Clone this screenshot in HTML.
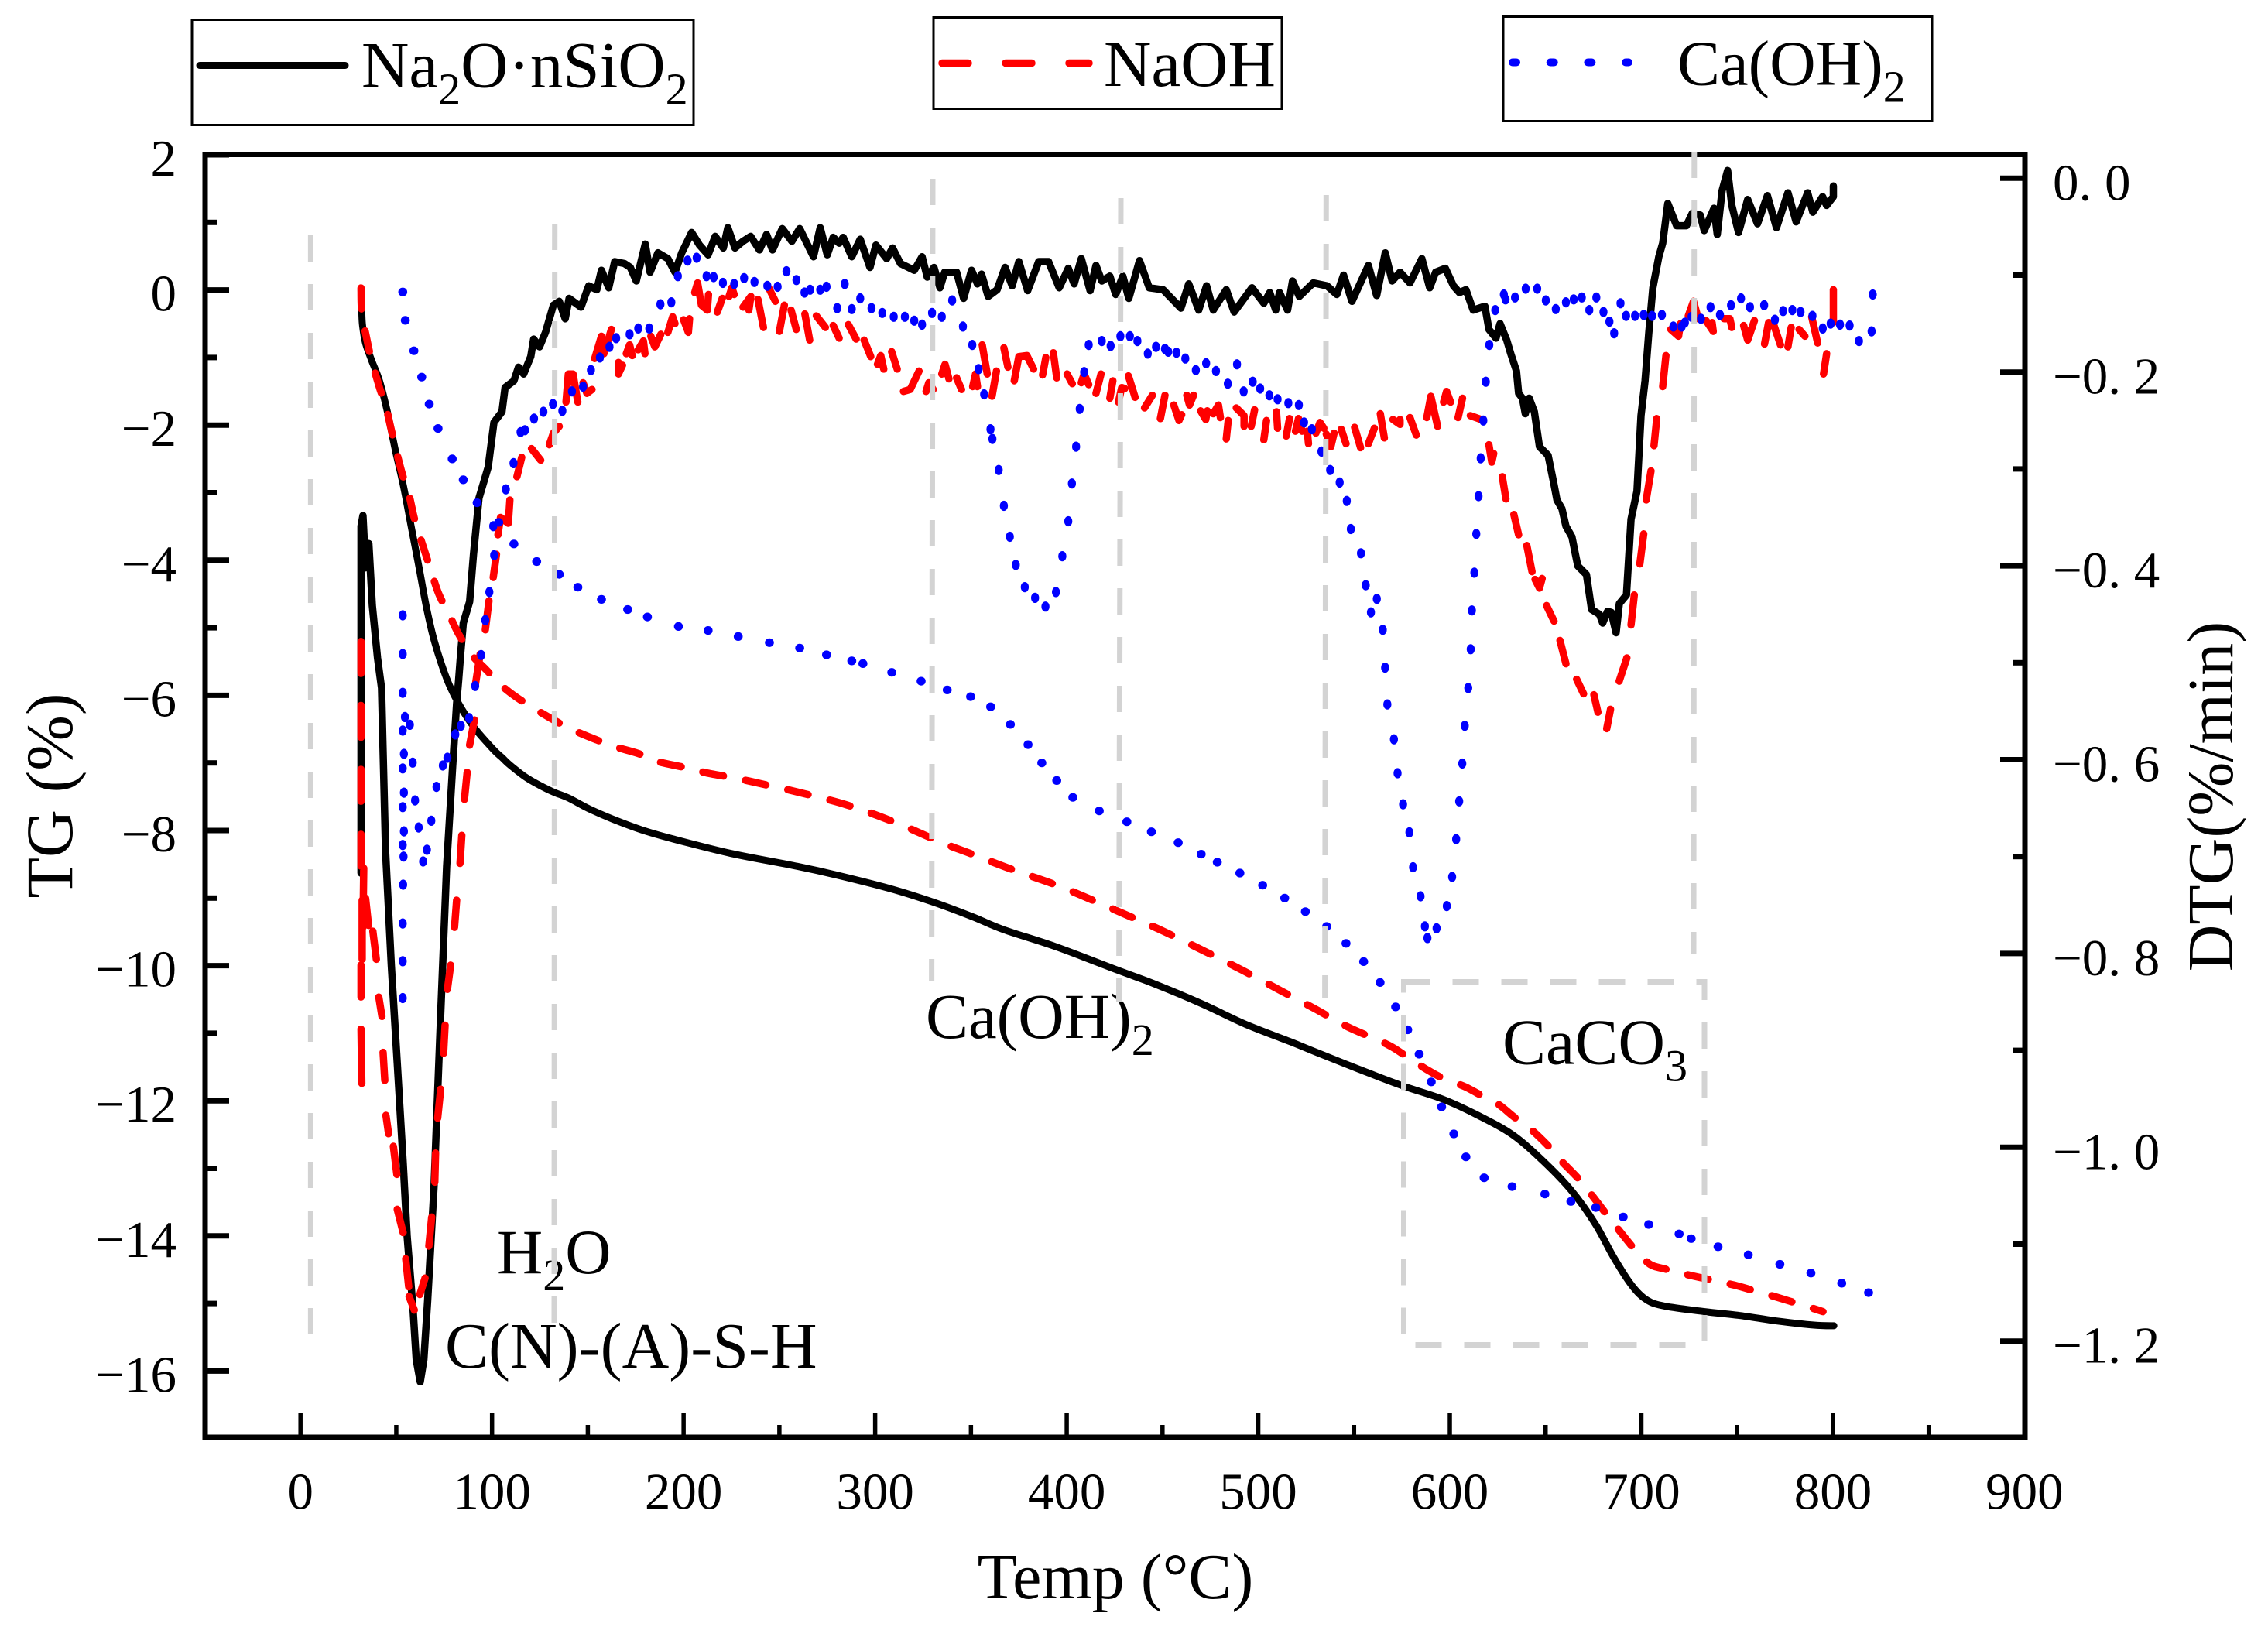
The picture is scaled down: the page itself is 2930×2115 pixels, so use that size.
<!DOCTYPE html>
<html lang="en">
<head>
<meta charset="utf-8">
<title>TG and DTG curves</title>
<style>
html,body{margin:0;padding:0;background:#fff;}
svg{display:block;}
text{font-family:"Liberation Serif","DejaVu Serif",serif;fill:#000;}
</style>
</head>
<body>
<svg id="chart" xmlns="http://www.w3.org/2000/svg" width="2930" height="2115" viewBox="0 0 2930 2115">
<rect x="0" y="0" width="2930" height="2115" fill="#fff"/>
<g id="series"></g>
<rect x="265" y="199.5" width="2351" height="1657.5" fill="none" stroke="#000" stroke-width="7"/>
<g id="axes"></g>
<g>
<rect x="248" y="25.5" width="648" height="136" fill="#fff" stroke="#000" stroke-width="3"/>
<line x1="258" y1="84.5" x2="446" y2="84.5" stroke="#000" stroke-width="9" stroke-linecap="round"/>
<text x="467" y="112.5" font-size="85">Na<tspan font-size="58" dy="22">2</tspan><tspan dy="-22">O·nSiO</tspan><tspan font-size="58" dy="22">2</tspan></text>
</g>
<g>
<rect x="1206" y="22.5" width="450" height="118" fill="#fff" stroke="#000" stroke-width="3"/>
<line x1="1217" y1="81.5" x2="1407" y2="81.5" stroke="#f00" stroke-width="9.5" stroke-linecap="round" stroke-dasharray="34 48"/>
<text x="1426" y="111" font-size="85">NaOH</text>
</g>
<g>
<rect x="1942" y="21.5" width="554" height="135" fill="#fff" stroke="#000" stroke-width="3"/>
<line x1="1954" y1="80.5" x2="2104" y2="80.5" stroke="#00f" stroke-width="10" stroke-linecap="round" stroke-dasharray="5 43.7"/>
<text x="2167" y="109.5" font-size="82.5">Ca(OH)<tspan font-size="58" dy="22">2</tspan></text>
</g>
<text x="1441" y="2065" font-size="84" text-anchor="middle">Temp (°C)</text>
<text transform="translate(93,1028) rotate(-90)" font-size="86" text-anchor="middle">TG (%)</text>
<text transform="translate(2884,1029) rotate(-90)" font-size="84" text-anchor="middle">DTG(%/min)</text>
<text x="642" y="1645" font-size="82">H<tspan font-size="58" dy="22">2</tspan><tspan dy="-22">O</tspan></text>
<text x="575" y="1767" font-size="84">C(N)-(A)-S-H</text>
<text x="1196" y="1341" font-size="82.5">Ca(OH)<tspan font-size="58" dy="22">2</tspan></text>
<text x="1941" y="1374.5" font-size="84">CaCO<tspan font-size="58" dy="22">3</tspan></text>
<g fill="none" stroke="#d3d3d3" stroke-width="7" stroke-dasharray="34 29">
<line x1="401.4" y1="304" x2="401.4" y2="1723"/>
<line x1="716.7" y1="289" x2="716" y2="1709"/>
<line x1="1205" y1="231" x2="1203.6" y2="1268"/>
<line x1="1448" y1="256" x2="1445.5" y2="1295"/>
<line x1="1713.3" y1="252" x2="1711.6" y2="1290"/>
<line x1="2188.8" y1="196" x2="2188" y2="1233"/>
<rect x="1813.5" y="1268.5" width="388.5" height="469"/>
</g>
</svg>
<script>
const xTickLabels = ['0','100','200','300','400','500','600','700','800','900'];
const xTickValues = [0,100,200,300,400,500,600,700,800,900];
const xMinorValues = [50,150,250,350,450,550,650,750,850];
const tgTickValues = [2,0,-2,-4,-6,-8,-10,-12,-14,-16];
const tgTickLabels = ['2','0','−2','−4','−6','−8','−10','−12','−14','−16'];
const tgMinorValues = [1,-1,-3,-5,-7,-9,-11,-13,-15];
const dtgTickValues = [0,-0.2,-0.4,-0.6,-0.8,-1.0,-1.2];
const dtgTickLabels = ['0. 0','−0. 2','−0. 4','−0. 6','−0. 8','−1. 0','−1. 2'];
const dtgMinorValues = [-0.1,-0.3,-0.5,-0.7,-0.9,-1.1];

const tgNa = [[31.6,0],[32,-.33],[32.4,-.53],[34,-.79],[37.1,-1.04],[41.3,-1.35],[45.4,-1.81],[49.5,-2.37],[53.6,-2.88],[57.8,-3.5],[61.9,-4.11],[66,-4.73],[70.1,-5.22],[76.3,-5.75],[82.5,-6.12],[90.8,-6.48],[101,-6.81],[105.2,-6.92],[109.3,-7.03],[117.5,-7.21],[124.8,-7.33],[132,-7.43],[140,-7.52],[150,-7.67],[162.9,-7.83],[178,-7.99],[193.9,-8.12],[224.8,-8.34],[259.4,-8.53],[280,-8.66],[307.8,-8.86],[331.3,-9.07],[351.1,-9.28],[367.3,-9.47],[394.4,-9.72],[426.9,-10.07],[444.9,-10.26],[470.2,-10.56],[493.6,-10.87],[517.1,-11.13],[530.1,-11.28],[552.3,-11.53],[574.5,-11.77],[596.7,-11.98],[615.7,-12.23],[633.1,-12.51],[649,-12.9],[663.2,-13.32],[675.9,-13.82],[685.4,-14.31],[694.9,-14.73],[702.9,-14.95],[712.4,-15.04],[733,-15.12],[752,-15.18],[771,-15.26],[790,-15.32],[800.5,-15.33]];

const tgNaOH = [[31.6,.03],[32,-.33],[34.7,-.74],[37.1,-1.04],[41.3,-1.45],[44.4,-1.71],[47.4,-2.07],[49.9,-2.37],[53.2,-2.73],[56.7,-3.04],[59.8,-3.42],[64.4,-3.83],[68.5,-4.19],[72.2,-4.5],[78,-4.83],[82.9,-5.11],[89.7,-5.41],[96.9,-5.62],[105.2,-5.86],[113.4,-6.04],[125.8,-6.26],[135.1,-6.41],[144.4,-6.54],[154.7,-6.66],[164,-6.76],[176.3,-6.86],[186.6,-6.98],[201,-7.07],[212.4,-7.15],[227.9,-7.23],[242.3,-7.32],[259.4,-7.43],[285,-7.62],[309.6,-7.87],[334.9,-8.18],[349.7,-8.34],[371.8,-8.58],[394.8,-8.81],[416.6,-9.07],[437.7,-9.33],[451.2,-9.5],[472.9,-9.8],[491.8,-10.07],[511.7,-10.37],[529.7,-10.64],[546.3,-10.9],[567.6,-11.17],[577.7,-11.35],[588.7,-11.55],[596.7,-11.67],[607.8,-11.79],[615.7,-11.91],[625.2,-12.05],[633.1,-12.23],[642.6,-12.43],[652.1,-12.69],[658.5,-12.9],[666.4,-13.13],[673.4,-13.37],[680.7,-13.64],[687.6,-13.89],[696.5,-14.2],[704.5,-14.42],[712.4,-14.49],[721.9,-14.56],[736.2,-14.65],[748.8,-14.73],[760,-14.82],[771,-14.91],[783.7,-15.02],[794.8,-15.12]];

const tgCa = [[53.4,-.03],[54.7,-.45],[59.2,-.9],[63.3,-1.29],[67.2,-1.69],[71.8,-2.05],[79.2,-2.5],[85,-2.81],[92.2,-3.15],[103.5,-3.44],[111.4,-3.76],[123.3,-4.02],[135.1,-4.21],[144.8,-4.4],[157.1,-4.58],[170.8,-4.73],[181.1,-4.84],[197.3,-4.98],[212.8,-5.04],[228.5,-5.13],[244.8,-5.22],[260.6,-5.3],[274.6,-5.4],[287.8,-5.49],[293.6,-5.53],[308.7,-5.66],[324,-5.79],[337.6,-5.92],[349.8,-6.02],[360.3,-6.17],[370.6,-6.43],[379.8,-6.73],[387,-7],[394.8,-7.26],[403.2,-7.51],[417,-7.71],[431.4,-7.87],[444.2,-8.02],[458.2,-8.18],[470.2,-8.35],[478.6,-8.47],[490.4,-8.63],[502.3,-8.81],[513.8,-9],[524.6,-9.2],[535.7,-9.42],[545.8,-9.67],[555,-9.94],[563.6,-10.25],[571.7,-10.61],[578,-10.95],[584,-11.31],[590.3,-11.72],[595.7,-12.09],[602.1,-12.49],[608.4,-12.83],[617.9,-13.14],[632.5,-13.27],[649.6,-13.38],[663.2,-13.49],[676.2,-13.58],[690.5,-13.72],[703.8,-13.83],[719.7,-13.97],[726,-14.04],[740,-14.16],[755.8,-14.28],[772.3,-14.42],[788.5,-14.55],[804.6,-14.7],[818.6,-14.84]];

const dtgNa = [[31.6,-.717],[31.6,-.359],[32.6,-.348],[34,-.402],[35.7,-.377],[37.5,-.441],[40.2,-.495],[42.3,-.526],[44.4,-.694],[47.4,-.812],[50.5,-.913],[53.6,-1.015],[55.7,-1.092],[58.8,-1.168],[60.4,-1.219],[62.5,-1.242],[64.4,-1.219],[66.4,-1.158],[69.7,-1.041],[73.2,-.863],[76.3,-.71],[79.4,-.608],[81.5,-.542],[82.5,-.519],[83.5,-.494],[85,-.459],[88.3,-.437],[90.3,-.388],[93.2,-.33],[98,-.298],[101,-.252],[105.2,-.241],[106.8,-.216],[111.4,-.209],[113.8,-.195],[116.5,-.202],[120.2,-.184],[121.7,-.166],[124.8,-.174],[127.9,-.159],[132,-.131],[135.1,-.127],[138.2,-.145],[140.2,-.124],[146.4,-.133],[150.5,-.111],[154.7,-.115],[157.1,-.095],[160.9,-.113],[164,-.086],[169.1,-.088],[172.2,-.092],[175.3,-.106],[180,-.068],[182.5,-.097],[186.6,-.077],[191.8,-.083],[195.5,-.097],[199,-.077],[204.2,-.056],[208.3,-.069],[212.8,-.079],[216.5,-.06],[220.7,-.072],[223.1,-.051],[226.8,-.072],[231,-.065],[235,-.06],[239.6,-.074],[243.3,-.058],[246.4,-.074],[251.5,-.052],[256.5,-.065],[260.6,-.052],[267.8,-.081],[271.3,-.051],[275,-.079],[278.1,-.061],[281.2,-.067],[283.3,-.061],[287.8,-.081],[292.2,-.063],[297.3,-.092],[300.4,-.069],[306,-.083],[309.1,-.072],[313.2,-.088],[320.4,-.095],[324.5,-.081],[327.2,-.102],[330.7,-.092],[333.8,-.113],[336.3,-.097],[342.5,-.097],[346.2,-.124],[350.3,-.095],[353.4,-.109],[355.5,-.099],[359,-.122],[363.7,-.115],[367.8,-.092],[371.5,-.111],[375,-.086],[379.6,-.116],[385.4,-.086],[390.5,-.086],[396.1,-.113],[400.8,-.093],[403.9,-.109],[407.6,-.083],[412.2,-.116],[415.3,-.09],[418.3,-.106],[422.5,-.101],[425.6,-.12],[429.3,-.101],[432.4,-.124],[438,-.085],[443.1,-.113],[450.3,-.115],[459.6,-.134],[463.7,-.109],[468.9,-.136],[473,-.111],[476.5,-.136],[483.3,-.115],[487.4,-.138],[496.7,-.113],[502.9,-.129],[506,-.118],[509.1,-.136],[511.1,-.118],[515.3,-.136],[517.9,-.106],[521.4,-.122],[528.7,-.108],[535.9,-.111],[541,-.12],[544.5,-.1],[548.9,-.127],[557.5,-.09],[561.8,-.121],[566.3,-.077],[569.9,-.106],[574,-.097],[579.2,-.108],[585.4,-.083],[589.5,-.113],[592.6,-.097],[597.7,-.093],[601.9,-.111],[605,-.118],[608.4,-.115],[612.2,-.136],[618.3,-.132],[620.4,-.156],[624.1,-.165],[626.2,-.15],[629.7,-.167],[631.8,-.181],[634.8,-.199],[635.9,-.222],[637.9,-.227],[639.4,-.243],[641.4,-.227],[644.1,-.241],[646.8,-.277],[651.3,-.286],[654.4,-.316],[655.9,-.332],[658.5,-.341],[660.6,-.359],[663.7,-.37],[666.8,-.4],[671.3,-.409],[674,-.445],[678.1,-.45],[679.8,-.459],[682.3,-.447],[684.3,-.448],[686.8,-.469],[688.5,-.439],[692.2,-.43],[694.6,-.352],[697.7,-.323],[699.8,-.245],[701.9,-.209],[703.9,-.159],[706,-.113],[709.1,-.081],[711.1,-.067],[713.8,-.026],[718.4,-.049],[723.5,-.049],[726.6,-.036],[730.7,-.038],[732.8,-.054],[737.9,-.031],[739.6,-.058],[742.1,-.013],[745,.008],[747.2,-.028],[750.7,-.056],[755.5,-.022],[760.6,-.047],[765.8,-.018],[770.5,-.051],[776.5,-.015],[780.8,-.045],[786.8,-.015],[789.5,-.035],[794.6,-.019],[796.7,-.028],[800.2,-.019],[800.2,-.008]];

const dtgNaOH = [[32,-.934],[31.6,-.878],null,[31.6,-.845],[31.6,-.812],null,[32.2,-.806],[32.2,-.745],null,[31.6,-.71],[31.6,-.677],null,[31.6,-.643],[31.6,-.61],null,[31.6,-.577],[31.6,-.544],null,[31.6,-.511],[31.6,-.478],null,
[33,-.712],[32.6,-.773],null,[34,-.743],[35.5,-.771],null,[37.8,-.777],[39.6,-.806],null,[40.9,-.845],[42.5,-.865],null,[43.1,-.902],[44,-.931],null,[44.6,-.967],[46,-.986],null,[48.5,-.999],[50.3,-1.028],null,[50.5,-1.064],[53.6,-1.088],null,[54.9,-1.115],[56.5,-1.144],null,[56.7,-1.154],[59.4,-1.168],null,
[62.3,-1.152],[65,-1.135],null,[67,-1.102],[68.5,-1.072],null,[70.1,-1.036],[70.5,-1.006],null,[71.6,-.97],[73.2,-.94],null,[74.7,-.903],[75.5,-.874],null,[76.7,-.837],[78.4,-.812],null,[80.4,-.773],[81.5,-.745],null,[83.3,-.707],[84.2,-.678],null,[85.6,-.641],[87,-.613],null,[88.3,-.585],[90.8,-.559],null,[91.2,-.524],[93.8,-.491],null,
[96.5,-.466],[98.4,-.436],null,[100.6,-.412],[102.3,-.388],null,[103.1,-.368],[104.4,-.35],[108.5,-.356],[109.3,-.332],null,[113,-.308],[115.5,-.288],null,[120.6,-.279],[125.4,-.291],null,[129.9,-.275],[132,-.263],[135.1,-.256],null,[138.6,-.231],[139.8,-.202],[142.3,-.202],[144.8,-.231],null,[147.5,-.211],[149.5,-.222],[152.2,-.218],null,[153.6,-.186],[157.1,-.163],[158.4,-.181],[162.3,-.156],null,[166,-.19],[166,-.202],[168.1,-.193],null,[170.1,-.181],[171.8,-.172],[173.2,-.183],null,[176.3,-.177],[179,-.168],[179.8,-.181],null,[182.9,-.163],[185,-.174],[188.1,-.161],null,[191.8,-.159],[194.3,-.143],[195.5,-.15],null,[200,-.146],[202.5,-.159],[203.1,-.145],null,[205.8,-.118],[207.3,-.108],[209.3,-.131],[212.4,-.136],[213,-.12],null,[217.6,-.138],[220.2,-.124],null,[223.7,-.122],[225.2,-.113],[226.4,-.12],null,[231,-.133],[235.1,-.122],[234.1,-.136],null,[238.8,-.125],[241.7,-.154],null,[244.4,-.113],[247.9,-.127],null,[250,-.158],[252.6,-.131],null,[256.1,-.136],[258.8,-.156],null,
[263.3,-.14],[265.8,-.167],null,[269.3,-.142],[274,-.154],null,[278.1,-.152],[281.2,-.165],null,[286,-.151],[290.1,-.166],null,[294.2,-.167],[297.7,-.184],null,[301.2,-.192],[302.9,-.183],[304.5,-.197],null,[308.6,-.179],[311.5,-.197],null,[314.8,-.22],[318.3,-.218],[322.9,-.199],null,[326.6,-.22],[328,-.211],[330.3,-.218],null,[334.8,-.202],[336.5,-.192],[338.5,-.207],null,[342.5,-.206],[345.1,-.218],null,[350.9,-.215],[352.4,-.202],[353.4,-.215],null,[355.9,-.172],[358.5,-.202],null,[361,-.225],[363.3,-.199],null,[367.2,-.175],[369.3,-.195],null,[372.6,-.209],[375,-.184],[379.2,-.183],[382.7,-.197],null,[387.4,-.203],[389.1,-.185],null,[393,-.18],[394.8,-.206],null,[400.2,-.202],[402.9,-.212],null,[407.6,-.211],[409.1,-.202],[411.5,-.213],null,[415.3,-.222],[417.9,-.202],null,[422.5,-.227],[424.1,-.209],null,[427,-.231],[428.7,-.216],[430.3,-.217],null,[432.2,-.204],[435.7,-.226],null,[440.6,-.237],[444.7,-.224],null,[448.9,-.248],[451.3,-.224],null,[455.9,-.234],[458.6,-.25],[460,-.244],null,[462.7,-.224],[464.1,-.234],[466.2,-.224],null,[469.9,-.24],[472.6,-.249],[473.4,-.24],null,[476.5,-.243],[479.2,-.234],[480.2,-.247],null,[483.3,-.269],[484.3,-.25],null,[488.5,-.237],[492.6,-.245],[492.6,-.256],null,[496.3,-.256],[498.1,-.239],null,[502.9,-.27],[504.3,-.25],null,[509.5,-.241],[510.1,-.258],null,[514.6,-.266],[516.3,-.248],null,[519.4,-.261],[521,-.248],[522.9,-.261],null,[525.6,-.261],[526.2,-.274],null,[530.1,-.263],[532.2,-.252],[534.2,-.258],null,[535.5,-.264],[537.9,-.277],[539.6,-.263],null,[543.3,-.259],[545.8,-.274],null,[550.3,-.257],[553.4,-.278],null,[557.5,-.274],[560.6,-.258],null,[563.7,-.243],[565.8,-.268],null,
[570.3,-.249],[574,-.254],[574,-.249],null,[579.2,-.247],[582.5,-.265],null,[588,-.247],[590.1,-.225],[593.6,-.256],null,[596.7,-.231],[598.3,-.22],[600.4,-.231],null,[604.3,-.247],[606.6,-.227],null,[610.7,-.245],[616.3,-.249],null,[620.4,-.275],[621.9,-.293],[622.9,-.284],null,[627.4,-.308],[629.3,-.331],null,[633.4,-.347],[635.9,-.368],null,[640.2,-.379],[642.9,-.406],null,[644.5,-.414],[646.8,-.423],[648.2,-.413],null,[650.5,-.441],[654.4,-.457],null,[657.5,-.477],[660.6,-.501],null,[666.2,-.517],[669.8,-.532],null,[675.2,-.533],[677.3,-.551],null,[681.9,-.568],[683.9,-.548],null,[688.4,-.519],[692.4,-.495],null,[694.6,-.461],[696.3,-.43],null,[699.2,-.398],[701.2,-.367],null,[702.5,-.332],[705,-.302],null,[706.6,-.276],[708,-.248],null,[711.1,-.215],[712.8,-.183],null,[715.3,-.156],[719.4,-.163],[720.4,-.15],null,[724.5,-.142],[727.2,-.127],[729.7,-.145],null,[733.8,-.147],[737.5,-.158],[736.9,-.149],null,[743.1,-.145],[746.2,-.145],[747.2,-.154],null,[753.4,-.152],[755.5,-.167],[759,-.147],null,[764.3,-.171],[766.4,-.149],[768.9,-.15],[772.6,-.172],null,[776.5,-.174],[778.2,-.154],null,[782.3,-.156],[785.4,-.163],null,[788.9,-.143],[792,-.17],null,[795.1,-.202],[796.7,-.181],null,[800.2,-.149],[800.2,-.115]];

const dtgCa = [[53.4,-.846],[53.4,-.808],[53.4,-.769],[53.6,-.729],[53.8,-.7],[53.4,-.688],[54,-.674],[53.4,-.649],[54,-.634],[53.4,-.609],[54,-.594],[53.4,-.57],[54.5,-.556],[53.4,-.531],[53.4,-.491],[53.4,-.451],[57.1,-.564],[58.6,-.603],[59.8,-.642],[61.7,-.67],[64,-.705],[66,-.693],[68.3,-.663],[71,-.628],[74.3,-.606],[76.7,-.598],[80.8,-.574],[83.7,-.565],[88,-.557],[91.2,-.524],[94.3,-.492],[96.5,-.456],[98.6,-.427],[101.1,-.389],[100.6,-.359],[107.2,-.321],[111.2,-.294],[114.9,-.262],[117.2,-.26],[121.9,-.248],[126.8,-.241],[131.8,-.233],[136.7,-.24],[141.7,-.22],[147.5,-.215],[151.6,-.198],[156.3,-.185],[161.3,-.174],[164.8,-.165],[171.8,-.161],[176.3,-.155],[182.1,-.155],[187.9,-.13],[193.6,-.128],[197,-.101],[202.1,-.085],[206.8,-.082],[212,-.101],[215.7,-.102],[220.5,-.108],[226.4,-.109],[231.6,-.103],[237,-.107],[243.7,-.111],[249.1,-.112],[253.7,-.096],[258.9,-.105],[263.1,-.118],[266,-.115],[271.3,-.115],[274.6,-.112],[284.1,-.109],[280.2,-.134],[287.8,-.135],[292.2,-.124],[298.1,-.134],[303.7,-.139],[309.7,-.143],[315.5,-.143],[320.4,-.147],[324.5,-.151],[329.7,-.139],[334.8,-.143],[340.2,-.126],[345.8,-.153],[350.7,-.172],[354,-.197],[356.9,-.223],[360.2,-.259],[361.2,-.269],[364.5,-.301],[367.2,-.338],[370.3,-.37],[373.4,-.399],[378.1,-.422],[383.5,-.433],[388.9,-.442],[394.4,-.427],[397.7,-.39],[400.8,-.354],[402.7,-.315],[404.9,-.277],[406.8,-.238],[409.1,-.2],[411.5,-.172],[418.3,-.168],[422.9,-.173],[428,-.163],[433,-.163],[436.9,-.168],[442.3,-.181],[446.6,-.174],[451.3,-.176],[453,-.179],[457.3,-.18],[461.9,-.186],[467.4,-.198],[472.8,-.191],[477.9,-.199],[488.9,-.192],[484.1,-.212],[492.4,-.22],[497.1,-.21],[501,-.217],[505.8,-.224],[510.1,-.228],[515.7,-.232],[521.2,-.234],[523.9,-.252],[528,-.259],[533,-.282],[537.5,-.301],[542.5,-.314],[546.2,-.333],[548.3,-.362],[553.6,-.387],[556.1,-.42],[561.9,-.434],[558.8,-.448],[565,-.466],[566.2,-.505],[567.4,-.543],[570.8,-.579],[572.7,-.614],[575.6,-.646],[578.9,-.675],[580.8,-.711],[584.7,-.741],[587,-.772],[588.3,-.784],[593.1,-.774],[598.4,-.751],[601.2,-.721],[603.3,-.682],[604.9,-.643],[606.5,-.604],[607.8,-.565],[609.6,-.526],[610.9,-.486],[611.5,-.446],[612.8,-.407],[613.8,-.367],[615,-.328],[616.1,-.289],[617.5,-.25],[618.8,-.21],[620.6,-.172],[623.7,-.136],[628.2,-.12],[629.1,-.125],[634,-.123],[639.6,-.114],[645.6,-.114],[650.1,-.126],[655.3,-.135],[660.6,-.128],[664.7,-.125],[668.9,-.123],[672.8,-.136],[676.5,-.123],[680.2,-.138],[683.3,-.148],[685.8,-.16],[689.1,-.129],[692,-.142],[696.7,-.142],[701.2,-.141],[705.6,-.142],[710.7,-.141],[716.7,-.153],[721,-.153],[722.7,-.149],[726.2,-.143],[731.1,-.145],[736.1,-.133],[741,-.141],[746.8,-.131],[752,-.124],[756.7,-.133],[764.1,-.131],[769.7,-.146],[774,-.137],[778.8,-.136],[783.1,-.138],[789.3,-.142],[794.7,-.155],[798.8,-.15],[803.7,-.151],[808.7,-.152],[813.6,-.168],[820.2,-.158],[820.8,-.12]];

const NS = 'http://www.w3.org/2000/svg';
const seriesLayer = document.getElementById('series');
const axesLayer = document.getElementById('axes');

function xScale(t){ return 388.2 + 2.4747 * t; }
function yTG(v){ return 374.6 - 87.3 * v; }
function yDTG(v){ return 230.3 - 1252 * v; }

function pathFrom(points, yFn){
  let d = '';
  let pen = false;
  for (const p of points){
    if (p === null){ pen = false; continue; }
    d += (pen ? 'L' : 'M') + xScale(p[0]).toFixed(1) + ' ' + yFn(p[1]).toFixed(1);
    pen = true;
  }
  return d;
}

function smoothPathFrom(points, yFn){
  const pts = points.map(function(p){ return [xScale(p[0]), yFn(p[1])]; });
  let d = 'M' + pts[0][0].toFixed(1) + ' ' + pts[0][1].toFixed(1);
  for (let i = 0; i < pts.length - 1; i++){
    const p0 = pts[Math.max(i - 1, 0)];
    const p1 = pts[i];
    const p2 = pts[i + 1];
    const p3 = pts[Math.min(i + 2, pts.length - 1)];
    const c1x = p1[0] + (p2[0] - p0[0]) / 6;
    const c1y = p1[1] + (p2[1] - p0[1]) / 6;
    const c2x = p2[0] - (p3[0] - p1[0]) / 6;
    const c2y = p2[1] - (p3[1] - p1[1]) / 6;
    d += 'C' + c1x.toFixed(1) + ' ' + c1y.toFixed(1) + ' ' + c2x.toFixed(1) + ' ' + c2y.toFixed(1) + ' ' + p2[0].toFixed(1) + ' ' + p2[1].toFixed(1);
  }
  return d;
}

function addLine(pathData, color, width, name, dash){
  const el = document.createElementNS(NS, 'path');
  
  
  el.setAttribute('d', pathData);
  el.setAttribute('fill', 'none');
  el.setAttribute('stroke', color);
  el.setAttribute('stroke-width', width);
  el.setAttribute('stroke-linecap', 'round');
  el.setAttribute('stroke-linejoin', 'round');
  if (dash) el.setAttribute('stroke-dasharray', dash);
  seriesLayer.appendChild(el);
}

function addDots(points, yFn, name, rx, ry){
  const g = document.createElementNS(NS, 'g');
  
  
  for (const p of points){
    const c = document.createElementNS(NS, 'ellipse');
    
    
    c.setAttribute('cx', xScale(p[0]).toFixed(1));
    c.setAttribute('cy', yFn(p[1]).toFixed(1));
    c.setAttribute('rx', rx);
    c.setAttribute('ry', ry);
    c.setAttribute('fill', '#00f');
    g.appendChild(c);
  }
  seriesLayer.appendChild(g);
}

function addTick(x1, y1, x2, y2, width, name){
  const el = document.createElementNS(NS, 'line');
  
  
  el.setAttribute('x1', x1);
  el.setAttribute('y1', y1);
  el.setAttribute('x2', x2);
  el.setAttribute('y2', y2);
  el.setAttribute('stroke', '#000');
  el.setAttribute('stroke-width', width);
  axesLayer.appendChild(el);
}

function addLabel(x, y, text, anchor, name){
  const el = document.createElementNS(NS, 'text');
  
  
  el.setAttribute('x', x);
  el.setAttribute('y', y);
  el.setAttribute('font-size', '67');
  el.setAttribute('text-anchor', anchor);
  el.setAttribute('xml:space', 'preserve');
  el.textContent = text;
  axesLayer.appendChild(el);
}

addLine(pathFrom(dtgNa, yDTG), '#000', 9.5, 'dtg-na2o-nsio2-line');
addLine(smoothPathFrom(tgNa, yTG), '#000', 9, 'tg-na2o-nsio2-line');
addLine(pathFrom(dtgNaOH, yDTG), '#f00', 9.5, 'dtg-naoh-line');
addLine(smoothPathFrom(tgNaOH, yTG), '#f00', 9.5, 'tg-naoh-line', '27 29');
addDots(dtgCa, yDTG, 'dtg-caoh2-dots', 5.2, 6.6);
addDots(tgCa, yTG, 'tg-caoh2-dots', 5.8, 5.6);

xTickValues.forEach(function(v, i){
  const x = xScale(v);
  addTick(x, 1857, x, 1825, 5.5, 'x-major-tick');
  addLabel(x, 1949.5, xTickLabels[i], 'middle', 'x-tick-label');
});
xMinorValues.forEach(function(v){
  const x = xScale(v);
  addTick(x, 1857, x, 1841, 5.5, 'x-minor-tick');
});
tgTickValues.forEach(function(v, i){
  const y = yTG(v);
  addTick(265, y, 296, y, 7, 'tg-major-tick');
  addLabel(228, y + 27, tgTickLabels[i], 'end', 'tg-tick-label');
});
tgMinorValues.forEach(function(v){
  const y = yTG(v);
  addTick(265, y, 280, y, 7, 'tg-minor-tick');
});
dtgTickValues.forEach(function(v, i){
  const y = yDTG(v);
  addTick(2616, y, 2584, y, 7, 'dtg-major-tick');
  addLabel(2652, y + 28, dtgTickLabels[i], 'start', 'dtg-tick-label');
});
dtgMinorValues.forEach(function(v){
  const y = yDTG(v);
  addTick(2616, y, 2600, y, 7, 'dtg-minor-tick');
});
</script>
</body>
</html>
